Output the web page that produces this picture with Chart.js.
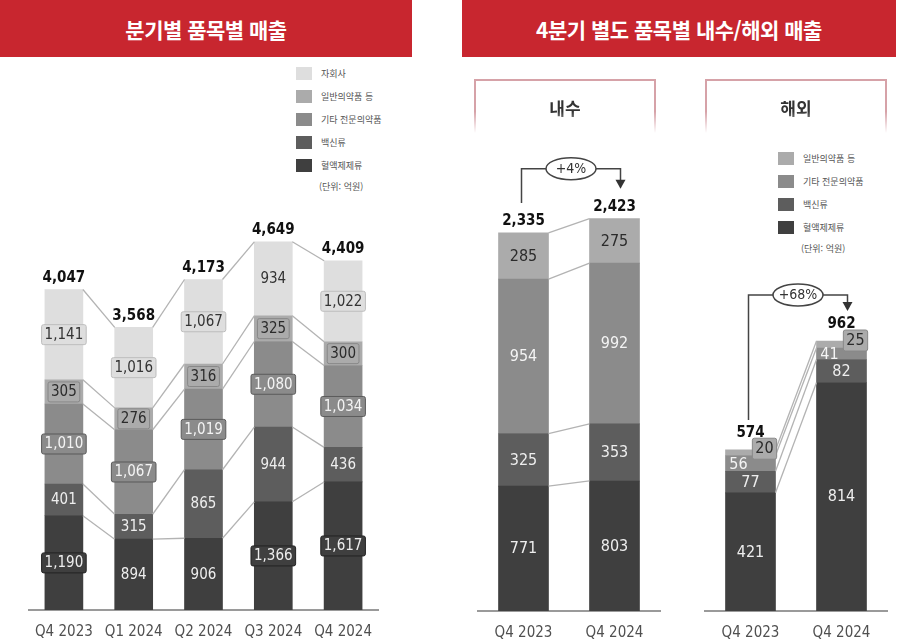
<!DOCTYPE html>
<html lang="ko">
<head>
<meta charset="utf-8">
<script src="https://cdn.jsdelivr.net/npm/chart.js@4.4.1/dist/chart.umd.min.js"></script>
<style>
  body { margin: 0; width: 900px; height: 644px; background: #fff; position: relative; overflow: hidden;
         font-family: "Noto Sans CJK KR", "Noto Sans", sans-serif; }
  .hdr { position: absolute; top: 0; height: 57px; background: #c8262f; color: #fff; font-weight: 700;
         font-size: 21px; display: flex; align-items: center; justify-content: center; letter-spacing: -0.5px; }
  .sub { position: absolute; top: 79px; height: 54px; border: 2px solid #d6a2a8; border-bottom: none;
         box-sizing: border-box; display: flex; align-items: center; justify-content: center;
         font-weight: 700; font-size: 17px; color: #333;
         -webkit-mask-image: linear-gradient(#000 60%, transparent); mask-image: linear-gradient(#000 60%, transparent); }
  .legend { position: absolute; font-size: 9px; color: #555; }
  .legend div { height: 23px; display: flex; align-items: center; }
  .legend span.sw { display: inline-block; width: 16px; height: 13px; margin-right: 9px; }
  .legend .unit { padding-left: 23px; height: 18px; }
  canvas { position: absolute; }
</style>
</head>
<body>
<div class="hdr" style="left:0;width:412px;">분기별 품목별 매출</div>
<div class="hdr" style="left:462px;width:434px;">4분기 별도 품목별 내수/해외 매출</div>
<div class="sub" style="left:474px;width:182px;">내수</div>
<div class="sub" style="left:705px;width:182px;">해외</div>

<div class="legend" id="legLeft" style="left:296px;top:62px;"></div>
<div class="legend" id="legRight" style="left:778px;top:147px;"></div>

<canvas id="cQuarter" width="410" height="444" style="left:0;top:200px;"></canvas>
<canvas id="cDomestic" width="210" height="494" style="left:462px;top:150px;"></canvas>
<canvas id="cOverseas" width="210" height="494" style="left:690px;top:150px;"></canvas>

<script>
// 분기별 품목별 매출 (단위: 억원), 아래에서 위 순서
const quarters = ['Q4 2023', 'Q1 2024', 'Q2 2024', 'Q3 2024', 'Q4 2024'];
const bloodQ   = [1190, 894, 906, 1366, 1617];
const vaccineQ = [401, 315, 865, 944, 436];
const etcRxQ   = [1010, 1067, 1019, 1080, 1034];
const otcQ     = [305, 276, 316, 325, 300];
const subsidQ  = [1141, 1016, 1067, 934, 1022];

// 4분기 별도 내수/해외
const yearLabels = ['Q4 2023', 'Q4 2024'];
const domBlood   = [771, 803];
const domVaccine = [325, 353];
const domEtcRx   = [954, 992];
const domOtc     = [285, 275];
const ovsBlood   = [421, 814];
const ovsVaccine = [77, 82];
const ovsEtcRx   = [56, 41];
const ovsOtc     = [20, 25];

const seriesNames = ['혈액제제류', '백신류', '기타 전문의약품', '일반의약품 등', '자회사'];
const unitText = '(단위: 억원)';

const colors   = ['#3f3f3f', '#5d5d5d', '#8b8b8b', '#ababab', '#dedede'];
const txtColor = ['#eeeeee', '#eeeeee', '#f4f4f4', '#2b2b2b', '#333333'];
const boxStroke = ['#222', '#3a3a3a', '#5a5a5a', '#888', '#bdbdbd'];
const numFont = '"Liberation Sans Narrow", "DejaVu Sans Condensed", Roboto, sans-serif';

function fmt(v) { return v.toLocaleString('en-US'); }

function buildLegend(id, names) {
  const el = document.getElementById(id);
  for (let i = names.length - 1; i >= 0; i--) {
    const row = document.createElement('div');
    row.innerHTML = `<span class="sw" style="background:${colors[i]}"></span>${names[i]}`;
    el.appendChild(row);
  }
  const u = document.createElement('div');
  u.className = 'unit';
  u.textContent = unitText;
  el.appendChild(u);
}
buildLegend('legLeft', seriesNames);
buildLegend('legRight', seriesNames.slice(0, 4));

function roundRect(ctx, x, y, w, h, r) {
  ctx.beginPath();
  ctx.moveTo(x + r, y);
  ctx.arcTo(x + w, y, x + w, y + h, r);
  ctx.arcTo(x + w, y + h, x, y + h, r);
  ctx.arcTo(x, y + h, x, y, r);
  ctx.arcTo(x, y, x + w, y, r);
  ctx.closePath();
}

// 막대 사이 연결선, 구간 값, 합계, 증감 화살표
const decor = {
  id: 'decor',
  afterDatasetsDraw(chart, args, opt) {
    const ctx = chart.ctx;
    const nDs = chart.data.datasets.length;
    const n = chart.data.labels.length;
    ctx.save();

    // 연결선
    ctx.strokeStyle = '#b3b3b3';
    ctx.lineWidth = 1.3;
    for (let k = 0; k < nDs; k++) {
      const meta = chart.getDatasetMeta(k);
      for (let i = 0; i < n - 1; i++) {
        const a = meta.data[i], b = meta.data[i + 1];
        ctx.beginPath();
        ctx.moveTo(a.x + a.width / 2, a.y);
        ctx.lineTo(b.x - b.width / 2, b.y);
        ctx.stroke();
      }
    }

    // 구간 값
    ctx.font = `${opt.fontSize}px ${numFont}`;
    ctx.textAlign = 'center';
    ctx.textBaseline = 'middle';
    chart.data.datasets.forEach((ds, k) => {
      const meta = chart.getDatasetMeta(k);
      const off = (opt.offsets && opt.offsets[k]) || [0, 0];
      ds.data.forEach((v, i) => {
        const el = meta.data[i];
        const x = el.x + off[0];
        const y = (el.y + el.base) / 2 + off[1];
        const t = fmt(v);
        if (opt.boxed(v, k)) {
          const w = ctx.measureText(t).width + 6;
          const h = opt.fontSize + 5;
          roundRect(ctx, x - w / 2, y - h / 2, w, h, 2);
          ctx.fillStyle = colors[k];
          ctx.fill();
          ctx.strokeStyle = boxStroke[k];
          ctx.lineWidth = 1;
          ctx.stroke();
        }
        ctx.fillStyle = txtColor[k];
        ctx.fillText(t, x, y + 0.5);
      });
    });

    // 합계
    const topMeta = chart.getDatasetMeta(nDs - 1);
    ctx.font = `bold ${opt.totalSize}px ${numFont}`;
    ctx.fillStyle = '#111';
    ctx.textBaseline = 'bottom';
    const totals = [];
    for (let i = 0; i < n; i++) {
      let s = 0;
      chart.data.datasets.forEach(ds => { s += ds.data[i]; });
      totals.push(s);
      const el = topMeta.data[i];
      ctx.fillText(fmt(s), el.x, el.y - (opt.totalGap || 4));
    }

    // 증감 화살표
    if (opt.bracket) {
      const a = topMeta.data[0], b = topMeta.data[1];
      const x1 = a.x - 2, x2 = b.x + 6;
      const yb = Math.min(a.y, b.y) - opt.bracket.rise;
      const cx = (x1 + x2) / 2, rw = 25, rh = 11;
      const pct = Math.round((totals[1] / totals[0] - 1) * 100);
      ctx.strokeStyle = '#444';
      ctx.lineWidth = 1.5;
      ctx.beginPath();
      ctx.moveTo(x1, a.y - 30);
      ctx.lineTo(x1, yb);
      ctx.lineTo(cx - rw, yb);
      ctx.moveTo(cx + rw, yb);
      ctx.lineTo(x2, yb);
      ctx.lineTo(x2, b.y - 38);
      ctx.stroke();
      ctx.fillStyle = '#333';
      ctx.beginPath();
      ctx.moveTo(x2 - 5, b.y - 39);
      ctx.lineTo(x2 + 5, b.y - 39);
      ctx.lineTo(x2, b.y - 30);
      ctx.closePath();
      ctx.fill();
      ctx.beginPath();
      ctx.ellipse(cx, yb, rw, rh, 0, 0, Math.PI * 2);
      ctx.fillStyle = '#fff';
      ctx.fill();
      ctx.stroke();
      ctx.fillStyle = '#333';
      ctx.font = `14px ${numFont}`;
      ctx.textBaseline = 'middle';
      ctx.fillText(`+${pct}%`, cx, yb + 0.5);
    }
    ctx.restore();
  }
};

function makeChart(id, labels, series, o) {
  return new Chart(document.getElementById(id), {
    type: 'bar',
    data: {
      labels: labels,
      datasets: series.map((d, k) => ({
        label: seriesNames[k],
        data: d,
        backgroundColor: colors[k],
        barThickness: o.barThickness
      }))
    },
    options: {
      responsive: false,
      animation: false,
      layout: { padding: o.padding },
      plugins: {
        legend: { display: false },
        tooltip: { enabled: false },
        decor: o.decor
      },
      scales: {
        x: {
          stacked: true,
          grid: { display: false },
          border: { display: true, color: '#9a9a9a', width: 2 },
          ticks: { color: '#505050', font: { family: numFont, size: 15 }, padding: 5 },
          afterFit: s => { s.height = 30; }
        },
        y: { stacked: true, display: false, min: 0, max: o.max }
      }
    },
    plugins: [decor]
  });
}

makeChart('cQuarter', quarters, [bloodQ, vaccineQ, etcRxQ, otcQ, subsidQ], {
  barThickness: 38,
  max: 5000,
  padding: { left: 29, right: 32, top: 14, bottom: 4 },
  decor: { fontSize: 15, totalSize: 15, boxed: (v, k) => v >= 1000 || k === 3 }
});

makeChart('cDomestic', yearLabels, [domBlood, domVaccine, domEtcRx, domOtc], {
  barThickness: 50,
  max: 2600,
  padding: { left: 16, right: 12, top: 40, bottom: 3 },
  decor: { fontSize: 16, totalSize: 15, boxed: () => false, bracket: { rise: 50 } }
});

makeChart('cOverseas', yearLabels, [ovsBlood, ovsVaccine, ovsEtcRx, ovsOtc], {
  barThickness: 50,
  max: 1500,
  padding: { left: 15, right: 13, top: 40, bottom: 3 },
  decor: {
    fontSize: 16, totalSize: 15, totalGap: 9,
    boxed: (v, k) => k === 3,
    offsets: { 2: [-12, 1], 3: [14, -4] },
    bracket: { rise: 46 }
  }
});
</script>
</body>
</html>
